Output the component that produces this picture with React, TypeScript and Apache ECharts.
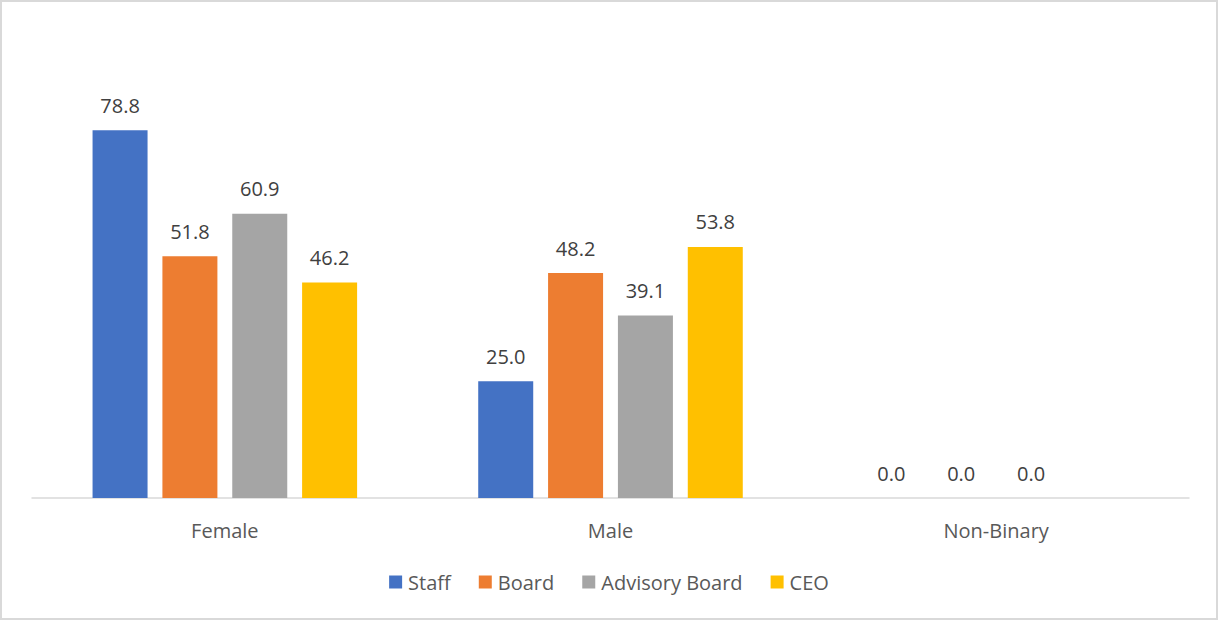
import React, { useEffect, useRef } from "react";
import * as echarts from "echarts";

const categories = ["Female", "Male", "Non-Binary"];
const staff = [78.8, 25.0, 0.0];
const board = [51.8, 48.2, 0.0];
const advisory = [60.9, 39.1, 0.0];
const ceo: (number | null)[] = [46.2, 53.8, null];

const seriesNames = ["Staff", "Board", "Advisory Board", "CEO"];
const seriesColors = ["#4472C4", "#ED7D31", "#A5A5A5", "#FFC000"];
const seriesData = [staff, board, advisory, ceo];

const FONT = "'Open Sans', 'Noto Sans', sans-serif";

export default function App() {
  const ref = useRef<HTMLDivElement>(null);
  useEffect(() => {
    document.body.style.margin = "0";
    if (!ref.current) return;
    const chart = echarts.init(ref.current, undefined, { renderer: "svg" });
    chart.setOption({
      animation: false,
      backgroundColor: "#ffffff",
      textStyle: { fontFamily: FONT },
      grid: { left: 30, right: 27, top: 76, bottom: 120, containLabel: false },
      legend: {
        data: seriesNames,
        bottom: 21,
        left: "center",
        itemWidth: 13,
        itemHeight: 13,
        itemGap: 28,
        icon: "rect",
        textStyle: { fontSize: 20, color: "#595959", fontFamily: FONT, padding: [0, 0, 0, 1] },
      },
      xAxis: {
        type: "category",
        data: categories,
        axisLine: { lineStyle: { color: "#D9D9D9", width: 1.5 } },
        axisTick: { show: false },
        axisLabel: { fontSize: 20, color: "#595959", margin: 22, fontFamily: FONT },
      },
      yAxis: {
        type: "value",
        min: 0,
        max: 90,
        interval: 10,
        show: false,
        splitLine: { show: false },
      },
      series: seriesData.map((d, i) => ({
        name: seriesNames[i],
        type: "bar",
        data: d,
        barWidth: 55,
        barGap: "27%",
        barCategoryGap: "31%",
        itemStyle: { color: seriesColors[i] },
        label: {
          show: true,
          position: "top",
          distance: 15,
          fontSize: 20,
          color: "#404040",
          fontFamily: FONT,
          formatter: (p: any) => (p.value == null ? "" : Number(p.value).toFixed(1)),
        },
      })),
    });
    return () => chart.dispose();
  }, []);
  return (
    <div
      ref={ref}
      style={{
        width: 1218,
        height: 620,
        boxSizing: "border-box",
        border: "2px solid #D9D9D9",
      }}
    />
  );
}
